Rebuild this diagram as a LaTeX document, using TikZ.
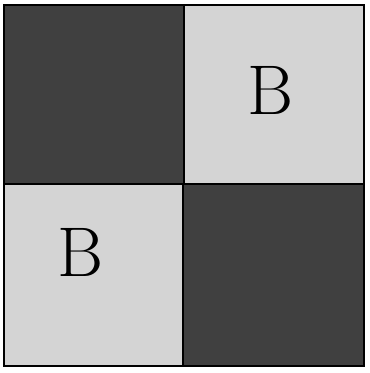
\documentclass[tikz,border=0pt]{standalone}

\tikzset{
    darksq/.style={fill=black!75},
    lightsq/.style={fill=black!17},
    letter/.style={font=\fontsize{20}{20}\selectfont, inner sep=0pt}
}

\begin{document}
\begin{tikzpicture}[x=0.01cm, y=0.01cm]
        % Page size
        \useasboundingbox (0,0) rectangle (369,373);
        \fill[white] (0,0) rectangle (369,373);

        % Squares of the board
        \fill[darksq] (4,189) rectangle (184,368);
        \fill[lightsq] (184,189) rectangle (364,368);
        \fill[lightsq] (4,7) rectangle (183,189);
        \fill[darksq] (183,7) rectangle (364,189);

        % Grid lines
        \draw[black, line width=0.6pt] (4,7) rectangle (364,368);
        \draw[black, line width=0.4pt] (184,368) -- (184,189) -- (183,189) -- (183,7);
        \draw[black, line width=0.4pt] (4,189) -- (364,189);

        % Letters in the light squares
        \node[letter] (b1) at (270,283) {B};
        \node[letter] (b2) at (80,121) {B};
    \end{tikzpicture}
\end{document}
